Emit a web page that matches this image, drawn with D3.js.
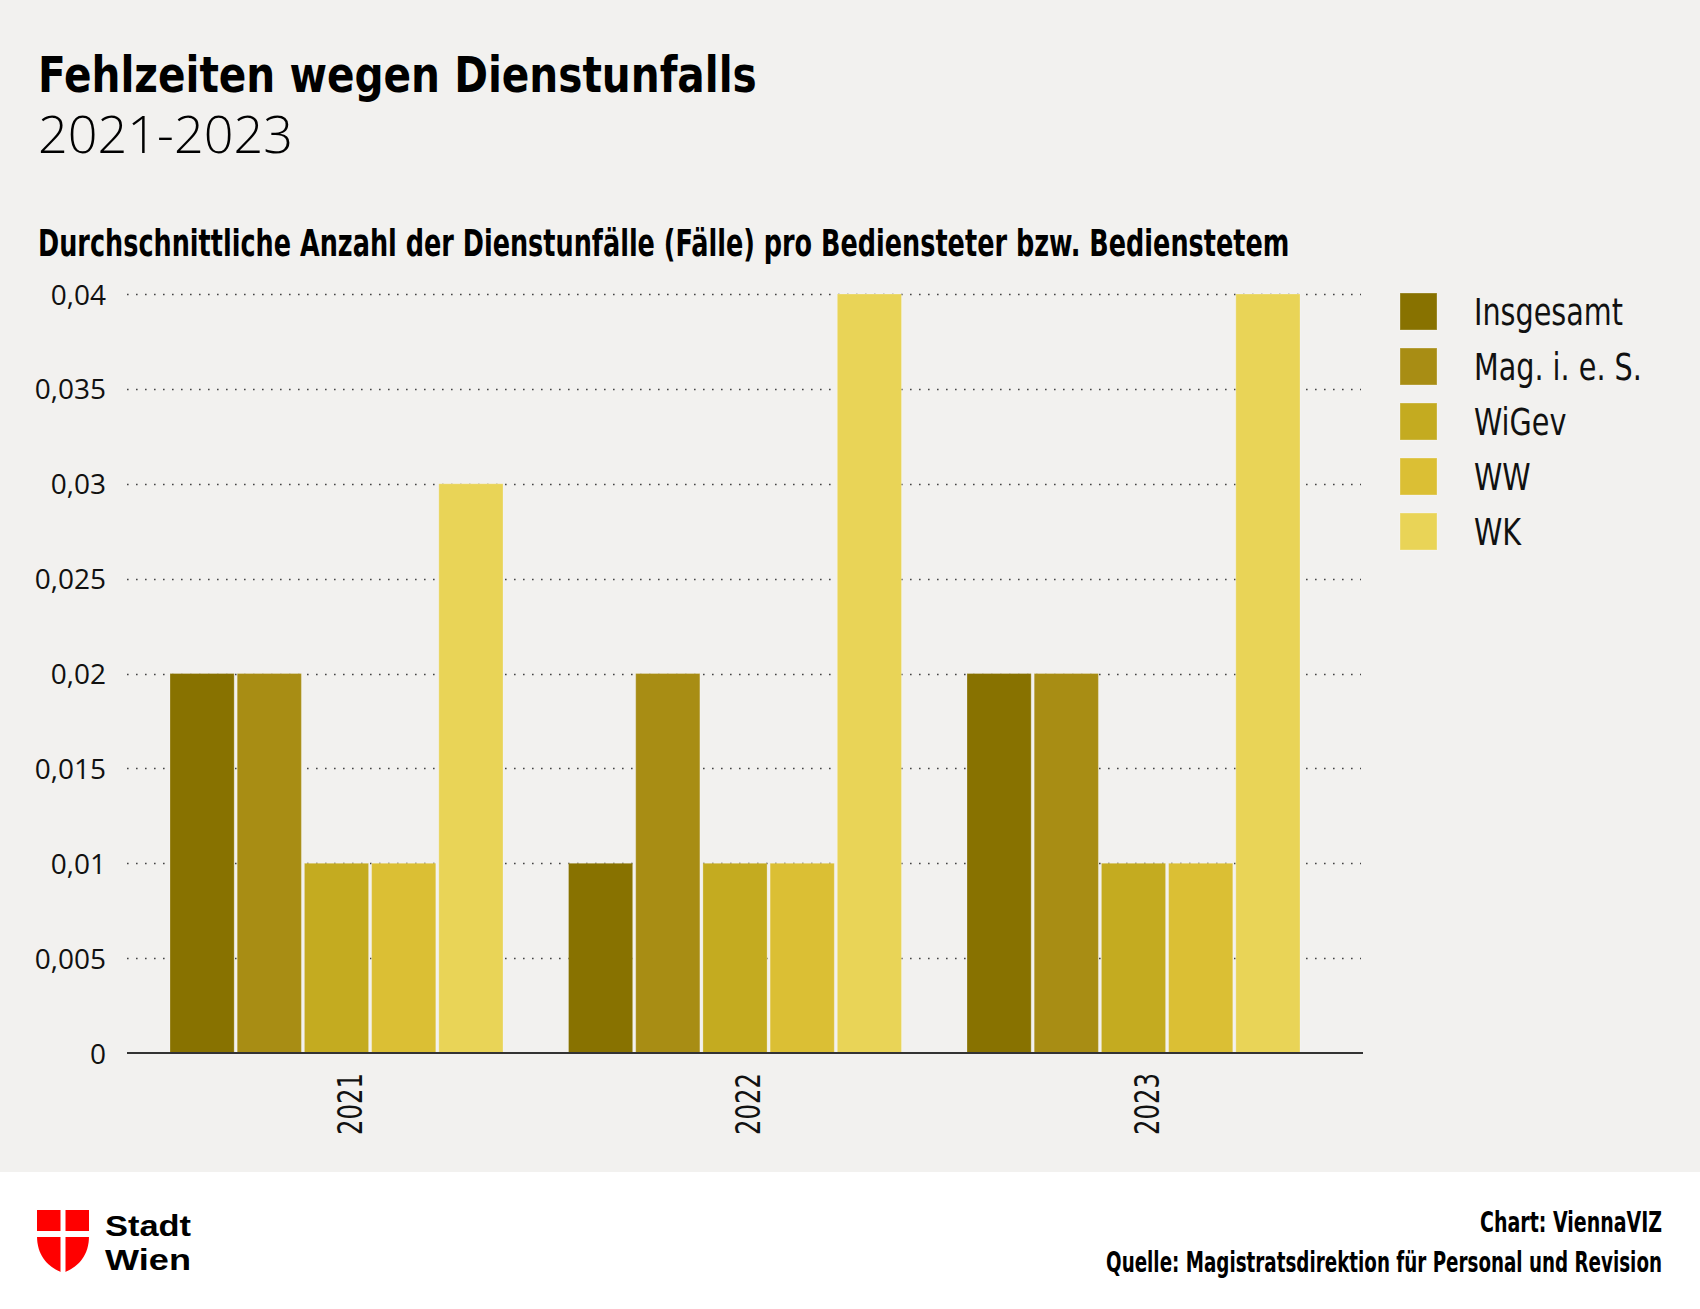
<!DOCTYPE html>
<html>
<head>
<meta charset="utf-8">
<script src="https://cdn.jsdelivr.net/npm/d3@7"></script>
<style>
  html, body { margin: 0; padding: 0; background: #f2f1ef; }
  svg { display: block; }
</style>
</head>
<body>
<svg id="chart" width="1700" height="1309"></svg>
<script>
// ---- data ----
const years = ["2021", "2022", "2023"];
const seriesNames = ["Insgesamt", "Mag. i. e. S.", "WiGev", "WW", "WK"];
const insgesamt = [0.02, 0.01, 0.02];
const magIeS = [0.02, 0.02, 0.02];
const wigev = [0.01, 0.01, 0.01];
const ww = [0.01, 0.01, 0.01];
const wk = [0.03, 0.04, 0.04];
const yTicks = [0, 0.005, 0.01, 0.015, 0.02, 0.025, 0.03, 0.035, 0.04];
const yTickLabels = ["0", "0,005", "0,01", "0,015", "0,02", "0,025", "0,03", "0,035", "0,04"];
const colors = ["#887200", "#a88d14", "#c4ab20", "#dbbf34", "#e9d457"];

const seriesValues = [insgesamt, magIeS, wigev, ww, wk];
const table = years.map((y, i) => ({
  year: y,
  values: seriesNames.map((s, j) => ({ key: s, value: seriesValues[j][i], color: colors[j] }))
}));

const svg = d3.select("#chart");
const W = 1700, H = 1309;

// horizontally condense a text so its rendered width equals target
function squeeze(sel, target, extra) {
  sel.each(function () {
    const t = d3.select(this);
    const w = this.getComputedTextLength();
    const s = w > 0 ? target / w : 1;
    const x = +t.attr("x") || 0, y = +t.attr("y") || 0;
    t.attr("x", null).attr("y", null)
      .attr("transform", `translate(${x},${y}) ${extra || ""} scale(${s},1)`);
  });
}

// backgrounds
svg.append("rect").attr("x", 0).attr("y", 0).attr("width", W).attr("height", H).attr("fill", "#f2f1ef");
svg.append("rect").attr("x", 0).attr("y", 1172).attr("width", W).attr("height", H - 1172).attr("fill", "#ffffff");

const condensed = "'DejaVu Sans Condensed', 'DejaVu Sans', sans-serif";

// titles
svg.append("text").attr("x", 38).attr("y", 92)
  .attr("font-family", condensed).attr("font-weight", 700).attr("font-size", 50)
  .attr("fill", "#000").text("Fehlzeiten wegen Dienstunfalls")
  .call(squeeze, 719);
svg.append("text").attr("x", 38).attr("y", 153)
  .attr("font-family", "'Open Sans', sans-serif").attr("font-weight", 300).attr("font-size", 52)
  .attr("fill", "#000").text("2021-2023")
  .call(squeeze, 255);
svg.append("text").attr("x", 38).attr("y", 256)
  .attr("font-family", condensed).attr("font-weight", 700).attr("font-size", 38)
  .attr("fill", "#000").text("Durchschnittliche Anzahl der Dienstunfälle (Fälle) pro Bediensteter bzw. Bedienstetem")
  .call(squeeze, 1252);

// scales
const y = d3.scaleLinear().domain([0, 0.04]).range([1053, 294]);
const x0 = d3.scaleBand().domain(years).range([137.25, 1332.75]).paddingInner(0.1644).paddingOuter(0.0822);
const x1 = d3.scaleBand().domain(seriesNames).range([0, x0.bandwidth()]).paddingInner(0.045).paddingOuter(0);

// gridlines
const gridLeft = 127, gridRight = 1361;
svg.append("g").selectAll("line").data(yTicks.filter(d => d > 0)).join("line")
  .attr("x1", gridLeft).attr("x2", gridRight)
  .attr("y1", d => Math.round(y(d)) + 0.5).attr("y2", d => Math.round(y(d)) + 0.5)
  .attr("stroke", "#444").attr("stroke-width", 1.6).attr("stroke-dasharray", "1.6,7.4");

// y tick labels via axis
const yAxis = d3.axisLeft(y).tickValues(yTicks).tickFormat((d, i) => yTickLabels[i]).tickSize(0).tickPadding(0);
const yg = svg.append("g").attr("transform", "translate(106,0)").call(yAxis);
yg.select(".domain").remove();
yg.selectAll("text").attr("font-family", "'Open Sans', sans-serif").attr("font-size", 28)
  .attr("fill", "#111").attr("dy", "0.36em");

// bars
const groups = svg.append("g").selectAll("g").data(table).join("g")
  .attr("transform", d => `translate(${x0(d.year)},0)`);
groups.selectAll("rect").data(d => d.values).join("rect")
  .attr("x", d => x1(d.key))
  .attr("y", d => y(d.value))
  .attr("width", x1.bandwidth())
  .attr("height", d => y(0) - y(d.value))
  .attr("fill", d => d.color)
  .attr("stroke", "rgba(255,255,255,0.25)").attr("stroke-width", 1);

// x axis baseline
svg.append("line").attr("x1", 127).attr("x2", 1363).attr("y1", 1053).attr("y2", 1053)
  .attr("stroke", "#333").attr("stroke-width", 2);

// x labels (rotated)
const xAxis = d3.axisBottom(x0).tickSize(0).tickPadding(0);
const xg = svg.append("g").attr("transform", "translate(0,1053)").call(xAxis);
xg.select(".domain").remove();
xg.selectAll(".tick text")
  .attr("font-family", condensed).attr("font-size", 33).attr("fill", "#111")
  .attr("text-anchor", "end").attr("dy", "0")
  .attr("x", 25).attr("y", 20)
  .call(squeeze, 62, "rotate(-90)");

// legend
const legend = svg.append("g").selectAll("g").data(seriesNames).join("g")
  .attr("transform", (d, i) => `translate(1400,${293 + i * 55})`);
legend.append("rect").attr("width", 37).attr("height", 37)
  .attr("fill", (d, i) => colors[i]).attr("stroke", "rgba(255,255,255,0.3)").attr("stroke-width", 1);
const legText = legend.append("text").attr("x", 74).attr("y", 32)
  .attr("font-family", condensed).attr("font-size", 37).attr("fill", "#111")
  .text(d => d);
// common horizontal factor derived from "Insgesamt" width in the reference (149px)
const legFactor = 149 / legText.filter(d => d === "Insgesamt").node().getComputedTextLength();
legText.each(function () {
  const t = d3.select(this);
  t.attr("x", null).attr("y", null).attr("transform", `translate(74,32) scale(${legFactor},1)`);
});

// footer logo
const logo = svg.append("g");
logo.append("path")
  .attr("d", "M37,1210 H89 V1236 C89,1256 78,1267 63,1273 C48,1267 37,1256 37,1236 Z")
  .attr("fill", "#ff0000");
logo.append("rect").attr("x", 60.5).attr("y", 1208).attr("width", 5).attr("height", 68).attr("fill", "#ffffff");
logo.append("rect").attr("x", 35).attr("y", 1231).attr("width", 56).attr("height", 6).attr("fill", "#ffffff");
logo.append("text").attr("x", 105).attr("y", 1236)
  .attr("font-family", "'Liberation Sans', Arial, sans-serif").attr("font-weight", 700).attr("font-size", 30)
  .attr("fill", "#000").text("Stadt").call(squeeze, 86);
logo.append("text").attr("x", 105).attr("y", 1270)
  .attr("font-family", "'Liberation Sans', Arial, sans-serif").attr("font-weight", 700).attr("font-size", 30)
  .attr("fill", "#000").text("Wien").call(squeeze, 86);

// footer credits
svg.append("text").attr("x", 1662).attr("y", 1232).attr("text-anchor", "end")
  .attr("font-family", condensed).attr("font-weight", 700).attr("font-size", 28)
  .attr("fill", "#000").text("Chart: ViennaVIZ").call(squeeze, 182);
svg.append("text").attr("x", 1662).attr("y", 1272).attr("text-anchor", "end")
  .attr("font-family", condensed).attr("font-weight", 700).attr("font-size", 28)
  .attr("fill", "#000").text("Quelle: Magistratsdirektion für Personal und Revision").call(squeeze, 556);
</script>
</body>
</html>
